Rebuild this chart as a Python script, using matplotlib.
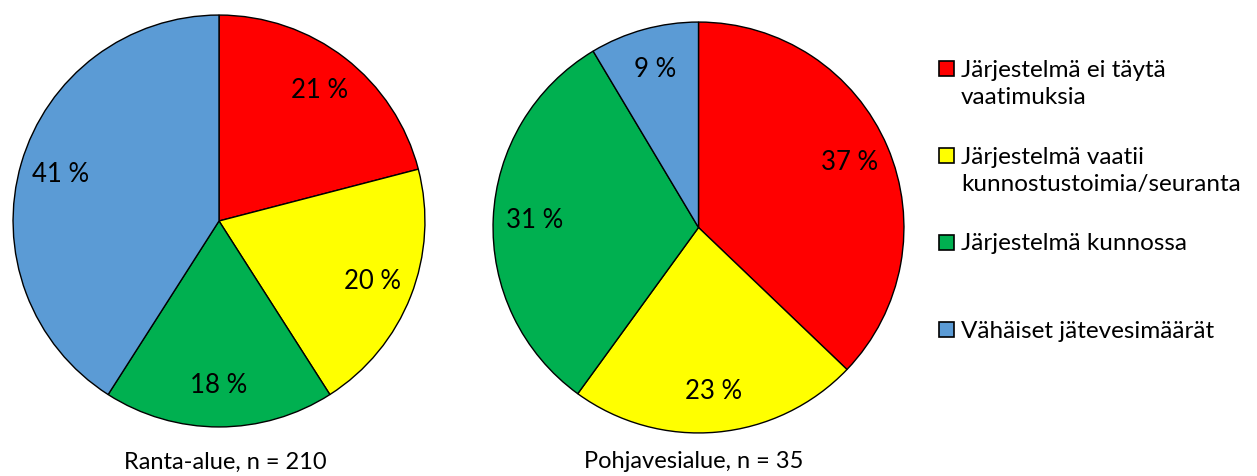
import matplotlib.pyplot as plt
from matplotlib.patches import Rectangle

# data: counts per class (shown as shares of n)
categories = ['Järjestelmä ei täytä\nvaatimuksia',
              'Järjestelmä vaatii\nkunnostustoimia/seuranta',
              'Järjestelmä kunnossa',
              'Vähäiset jätevesimäärät']
ranta_counts = [44, 42, 38, 86]        # n = 210
pohjavesi_counts = [13, 8, 11, 3]      # n = 35
titles = ['Ranta-alue, n = 210', 'Pohjavesialue, n = 35']

colors = ['#FF0000', '#FFFF00', '#00B050', '#5B9BD5']

plt.rcParams['font.family'] = ['Lato', 'DejaVu Sans']

W, H = 1257, 476
fig = plt.figure(figsize=(W / 100, H / 100), dpi=100)


def px_box(cx, cy, r):
    """axes rectangle in figure fractions from a pixel centre and radius"""
    return [(cx - r) / W, (H - cy - r) / H, 2 * r / W, 2 * r / H]


def draw_pie(box, counts, title, title_x):
    ax = fig.add_axes(box)
    ax.pie(counts, colors=colors, startangle=90, counterclock=False,
           autopct=lambda p: '{:.0f} %'.format(p), pctdistance=0.8,
           wedgeprops=dict(edgecolor='black', linewidth=1.0),
           textprops=dict(fontsize=18.5, color='black'))
    ax.set_xlim(-1.01, 1.01)
    ax.set_ylim(-1.01, 1.01)
    ax.set_aspect('equal')
    fig.text(title_x / W, 1 - 462 / H, title, ha='center', va='center',
             fontsize=17)
    return ax


draw_pie(px_box(219, 221, 208), ranta_counts, titles[0], 225)
draw_pie(px_box(698.5, 227.5, 207.5), pohjavesi_counts, titles[1], 694)

# legend, drawn by hand so markers line up with the first text line
base0 = 76.5
step = 87
line_px = 27.6
for i, (lab, col) in enumerate(zip(categories, colors)):
    base = base0 + i * step
    fig.add_artist(Rectangle((939 / W, 1 - (base - 0.5) / H), 15 / W, 15 / H,
                             transform=fig.transFigure, facecolor=col,
                             edgecolor='black', linewidth=1.2))
    # multi-line text is placed by the baseline of its last line
    last = base + lab.count('\n') * line_px
    fig.text(961 / W, 1 - last / H, lab, ha='left', va='baseline',
             fontsize=17.5, linespacing=1.36)

fig.savefig('out.png', dpi=100)
